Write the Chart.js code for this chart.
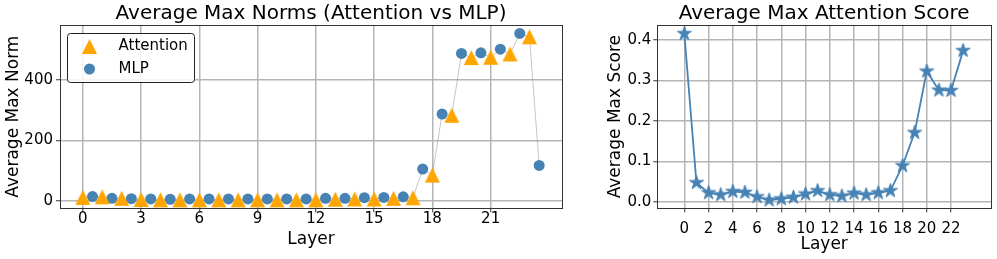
<!DOCTYPE html>
<html>
<head>
<meta charset="utf-8">
<script src="https://cdn.jsdelivr.net/npm/chart.js@4.4.0/dist/chart.umd.min.js"></script>
<style>
  html, body { margin: 0; padding: 0; background: #fff; }
  #wrap { position: relative; width: 997px; height: 259px; overflow: hidden; }
  .box { position: absolute; top: 0; }
</style>
</head>
<body>
<div id="wrap">
  <div class="box" style="left:0"><canvas id="normChart" width="580" height="259"></canvas></div>
  <div class="box" style="left:590px"><canvas id="scoreChart" width="407" height="259"></canvas></div>
</div>
<script>
// donnees
const layers = [0, 1, 2, 3, 4, 5, 6, 7, 8, 9, 10, 11, 12, 13, 14, 15, 16, 17, 18, 19, 20, 21, 22, 23];
const attnNorms = [11, 13, 8, 4, 3, 3, 3, 3, 3, 3, 3, 3, 3, 5, 6, 6, 8, 10, 85, 283, 474, 475, 486, 543];
const mlpNorms = [14, 8, 7, 6, 5, 6, 6, 6, 6, 6, 6, 6, 8, 8, 10, 11, 13, 105, 287, 488, 490, 502, 554, 117];
const attnScores = [0.416, 0.047, 0.022, 0.017, 0.025, 0.023, 0.012, 0.004, 0.007, 0.011, 0.019, 0.027,
                    0.017, 0.014, 0.021, 0.017, 0.022, 0.027, 0.089, 0.171, 0.323, 0.276, 0.275, 0.374];
const normXTicks = [0, 3, 6, 9, 12, 15, 18, 21];
const normYTicks = [0, 200, 400];
const scoreXTicks = [0, 2, 4, 6, 8, 10, 12, 14, 16, 18, 20, 22];
const scoreYTicks = [0, 0.1, 0.2, 0.3, 0.4];

const ORANGE = '#FFA500';
const BLUE = '#4682B4';
const GRID = '#b5b5b5';
const SPINE = '#333333';

Chart.defaults.font.family = "'DejaVu Sans', sans-serif";
Chart.defaults.color = '#000';

// marqueurs dessines a la main (centres sur leur boite comme matplotlib)
function triangleImage(size, color) {
    const c = document.createElement('canvas');
    c.width = size + 2;
    c.height = size + 2;
    const g = c.getContext('2d');
    g.beginPath();
    g.moveTo(1 + size / 2, 1);
    g.lineTo(1 + size, 1 + size);
    g.lineTo(1, 1 + size);
    g.closePath();
    g.fillStyle = color;
    g.fill();
    return c;
}

function starImage(R, color) {
    const size = Math.ceil(R * 2 + 4);
    const c = document.createElement('canvas');
    c.width = size;
    c.height = size;
    const g = c.getContext('2d');
    const cx = size / 2, cy = size / 2, r = R * 0.382;
    g.beginPath();
    for (let k = 0; k < 10; k++) {
        const rad = (k % 2 === 0) ? R : r;
        const a = -Math.PI / 2 + k * Math.PI / 5;
        const px = cx + rad * Math.cos(a), py = cy + rad * Math.sin(a);
        if (k === 0) g.moveTo(px, py); else g.lineTo(px, py);
    }
    g.closePath();
    g.fillStyle = color;
    g.fill();
    g.strokeStyle = color;
    g.lineWidth = 1;
    g.stroke();
    return c;
}

// cadre autour de la zone du graphe (les 4 cotes)
const framePlugin = {
    id: 'frame',
    afterDatasetsDraw(chart) {
        const { ctx, chartArea: a } = chart;
        ctx.save();
        ctx.strokeStyle = SPINE;
        ctx.lineWidth = 1;
        ctx.strokeRect(Math.round(a.left) + 0.5, Math.round(a.top) + 0.5,
            Math.round(a.right - a.left), Math.round(a.bottom - a.top));
        ctx.restore();
    }
};

// legende encadree en haut a gauche
const boxLegend = {
    id: 'boxLegend',
    afterDraw(chart) {
        const ctx = chart.ctx;
        const x0 = 67.5, y0 = 33.5, w = 127, h = 49;
        ctx.save();
        ctx.fillStyle = 'rgba(255,255,255,0.85)';
        ctx.strokeStyle = '#222';
        ctx.lineWidth = 1;
        ctx.beginPath();
        ctx.roundRect(x0, y0, w, h, 3);
        ctx.fill();
        ctx.stroke();
        const items = chart.data.datasets.filter(d => d.label);
        items.forEach((ds, i) => {
            const cy = y0 + 13 + i * 22.5;
            ctx.fillStyle = ds.backgroundColor;
            Chart.helpers.drawPoint(ctx, {
                pointStyle: ds.pointStyle,
                radius: ds.pointRadius,
                borderWidth: 0,
                rotation: 0
            }, x0 + 22, cy);
            ctx.fillStyle = '#000';
            ctx.font = "15px 'DejaVu Sans'";
            ctx.textBaseline = 'middle';
            ctx.textAlign = 'left';
            ctx.fillText(ds.label, x0 + 51, cy);
        });
        ctx.restore();
    }
};

function fixTicks(values) {
    return scale => { scale.ticks = values.map(v => ({ value: v })); };
}

// ---- graphe de gauche : normes ----
const attnPoints = layers.map((l, i) => ({ x: l, y: attnNorms[i] }));
const mlpPoints = layers.map((l, i) => ({ x: l + 0.5, y: mlpNorms[i] }));
const joinPoints = [];
layers.forEach((l, i) => {
    joinPoints.push(attnPoints[i]);
    joinPoints.push(mlpPoints[i]);
});

new Chart(document.getElementById('normChart'), {
    type: 'scatter',
    data: {
        datasets: [
            {
                label: 'Attention',
                data: attnPoints,
                pointStyle: triangleImage(15, ORANGE),
                pointRadius: 8,
                backgroundColor: ORANGE,
                borderWidth: 0,
                order: 1
            },
            {
                label: 'MLP',
                data: mlpPoints,
                pointStyle: 'circle',
                pointRadius: 5.5,
                backgroundColor: BLUE,
                borderWidth: 0,
                order: 2
            },
            {
                data: joinPoints,
                showLine: true,
                pointRadius: 0,
                borderColor: 'rgba(128,128,128,0.45)',
                borderWidth: 1,
                order: 3
            }
        ]
    },
    options: {
        responsive: false,
        animation: false,
        events: [],
        layout: { padding: { top: 0, right: 18, bottom: 0, left: 0 } },
        plugins: {
            legend: { display: false },
            tooltip: { enabled: false },
            title: {
                display: true,
                fullSize: false,
                text: 'Average Max Norms (Attention vs MLP)',
                font: { size: 20, weight: 'normal', lineHeight: 1.1 },
                color: '#000',
                padding: { top: 3, bottom: 0 }
            }
        },
        scales: {
            x: {
                type: 'linear',
                min: -1.175,
                max: 24.675,
                afterBuildTicks: fixTicks(normXTicks),
                afterFit: s => { s.height = 50.7; },
                grid: { color: GRID, lineWidth: 1.5, tickColor: SPINE, tickLength: 4, tickWidth: 1 },
                border: { display: false },
                ticks: { font: { size: 15 }, padding: -2, color: '#000' },
                title: { display: true, text: 'Layer', font: { size: 17 }, padding: { top: 0, bottom: 9 } }
            },
            y: {
                min: -25,
                max: 582,
                afterBuildTicks: fixTicks(normYTicks),
                afterFit: s => { s.width = 60; },
                grid: { color: GRID, lineWidth: 1.5, tickColor: SPINE, tickLength: 4, tickWidth: 1 },
                border: { display: false },
                ticks: { font: { size: 15 }, padding: 3, color: '#000' },
                title: { display: true, text: 'Average Max Norm', font: { size: 17 }, padding: { top: 3, bottom: 0 } }
            }
        }
    },
    plugins: [framePlugin, boxLegend]
});

// ---- graphe de droite : scores ----
new Chart(document.getElementById('scoreChart'), {
    type: 'line',
    data: {
        datasets: [{
            data: layers.map((l, i) => ({ x: l, y: attnScores[i] })),
            borderColor: BLUE,
            borderWidth: 1.8,
            pointStyle: starImage(7.4, BLUE),
            tension: 0
        }]
    },
    options: {
        responsive: false,
        animation: false,
        events: [],
        layout: { padding: { top: 0, right: 6, bottom: 0, left: 0 } },
        plugins: {
            legend: { display: false },
            tooltip: { enabled: false },
            title: {
                display: true,
                fullSize: false,
                text: 'Average Max Attention Score',
                font: { size: 20, weight: 'normal', lineHeight: 1.1 },
                color: '#000',
                padding: { top: 3, bottom: 0 }
            }
        },
        scales: {
            x: {
                type: 'linear',
                min: -2.23,
                max: 25.3,
                afterBuildTicks: fixTicks(scoreXTicks),
                afterFit: s => { s.height = 50.7; },
                grid: { color: GRID, lineWidth: 1.5, tickColor: SPINE, tickLength: 4, tickWidth: 1 },
                border: { display: false },
                ticks: { font: { size: 15 }, padding: 8, color: '#000' },
                title: { display: true, text: 'Layer', font: { size: 17 }, padding: { top: 0, bottom: 4 } }
            },
            y: {
                min: -0.0163,
                max: 0.4374,
                afterBuildTicks: fixTicks(scoreYTicks),
                afterFit: s => { s.width = 67.3; },
                grid: { color: GRID, lineWidth: 1.5, tickColor: SPINE, tickLength: 4, tickWidth: 1 },
                border: { display: false },
                ticks: { font: { size: 15 }, padding: 2, color: '#000', callback: v => v.toFixed(1) },
                title: { display: true, text: 'Average Max Score', font: { size: 17 }, padding: { top: 15, bottom: 0 } }
            }
        }
    },
    plugins: [framePlugin]
});
</script>
</body>
</html>
